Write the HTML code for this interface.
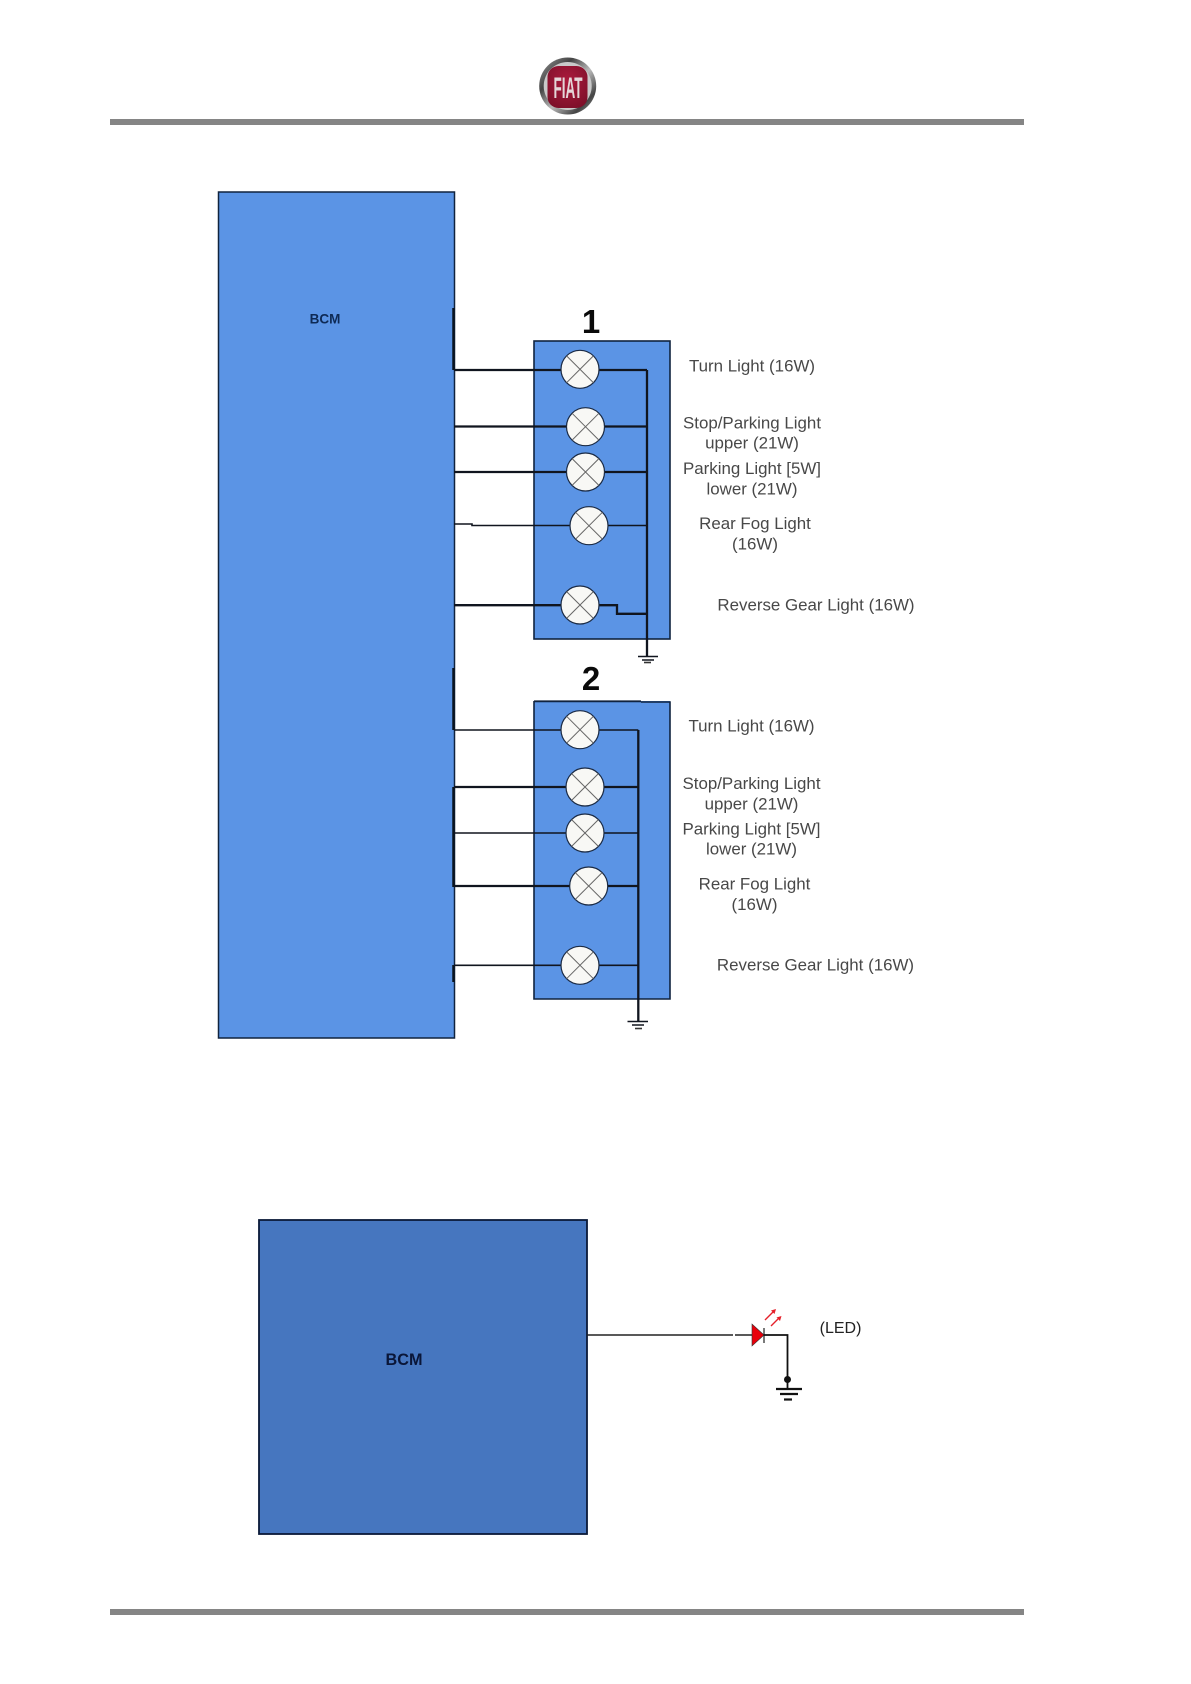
<!DOCTYPE html>
<html>
<head>
<meta charset="utf-8">
<style>
html,body{margin:0;padding:0;background:#fff;}
svg{display:block;}
.l{font-family:"Liberation Sans",Arial,sans-serif;font-size:16.9px;fill:#484848;text-anchor:middle;}
.n{font-family:"Liberation Sans",Arial,sans-serif;font-weight:bold;font-size:33px;fill:#0a0a0a;text-anchor:middle;}
.w{stroke:#10151f;stroke-width:2.3;fill:none;}
.t{stroke:#10151f;stroke-width:1.6;fill:none;}
.x{stroke:#666;stroke-width:1;}
.c{fill:#f8f8f5;stroke:#1a2a44;stroke-width:1.2;}
</style>
</head>
<body>
<svg width="1191" height="1684" viewBox="0 0 1191 1684" xmlns="http://www.w3.org/2000/svg">
<defs>
<linearGradient id="ring" x1="0" y1="0" x2="1" y2="1">
<stop offset="0" stop-color="#999"/><stop offset=".3" stop-color="#444"/><stop offset=".55" stop-color="#bbb"/><stop offset=".8" stop-color="#444"/><stop offset="1" stop-color="#aaa"/>
</linearGradient>
<radialGradient id="red" cx=".5" cy=".35" r=".7">
<stop offset="0" stop-color="#ab1b3d"/><stop offset="1" stop-color="#7d0f29"/>
</radialGradient>
<g id="lamp">
<circle class="c" r="19"/>
<line class="x" x1="-13.4" y1="-13.4" x2="13.4" y2="13.4"/>
<line class="x" x1="-13.4" y1="13.4" x2="13.4" y2="-13.4"/>
</g>
</defs>

<!-- header / footer bars -->
<rect x="110" y="119" width="914" height="6" fill="#858585"/>
<rect x="110" y="1609" width="914" height="6" fill="#858585"/>

<!-- logo -->
<circle cx="567.7" cy="86" r="28.5" fill="url(#ring)"/>
<circle cx="567.7" cy="86" r="24" fill="#c9c9c9"/>
<rect x="547.5" y="66" width="40" height="42" rx="11" fill="url(#red)"/>
<text x="568" y="98" font-family="Liberation Sans, Arial, sans-serif" font-weight="bold" font-size="30" fill="#e4d6d8" text-anchor="middle" textLength="29" lengthAdjust="spacingAndGlyphs">FIAT</text>

<!-- main BCM -->
<rect x="218.5" y="192" width="236" height="846" fill="#5b94e5" stroke="#10233f" stroke-width="1.5"/>
<text x="325" y="323.5" font-family="Liberation Sans, Arial, sans-serif" font-weight="bold" font-size="13.5" fill="#0e2a55" text-anchor="middle">BCM</text>
<line x1="453.5" y1="308" x2="453.5" y2="370" stroke="#0a1420" stroke-width="2.5"/>
<line x1="453.5" y1="668" x2="453.5" y2="730" stroke="#0a1420" stroke-width="2.5"/>
<line x1="453.5" y1="787" x2="453.5" y2="887" stroke="#0a1420" stroke-width="2.5"/>
<line x1="453.5" y1="965" x2="453.5" y2="982" stroke="#0a1420" stroke-width="2.5"/>

<!-- box 1 -->
<rect x="534" y="341" width="136" height="298" fill="#5b94e5" stroke="#10233f" stroke-width="1.6"/>
<path class="w" d="M454 370H647M454 426.5H647M454 472H647M454 605.2H617V613.8H647M647 370V656"/>
<path class="t" d="M454 524H472V525.5H647"/>
<use href="#lamp" x="580" y="369.3"/>
<use href="#lamp" x="585.5" y="426.7"/>
<use href="#lamp" x="585.5" y="472"/>
<use href="#lamp" x="589" y="525.7"/>
<use href="#lamp" x="580" y="605"/>
<path class="t" d="M638 656.5H658M642 660H654"/>
<path d="M644 662.5H651" stroke="#333" stroke-width="1.6"/>

<!-- box 2 -->
<rect x="534" y="701" width="136" height="298" fill="#5b94e5"/>
<path d="M534 701V999H670V702H641" fill="none" stroke="#10233f" stroke-width="1.6"/>
<path d="M534 701.3H641" stroke="#10233f" stroke-width="1.8"/>
<path class="t" d="M454 730H638.3M454 833H638.3M454 965.3H638.3"/>
<path class="w" d="M454 787H638.3M454 886H638.3M638.3 730V1021"/>
<use href="#lamp" x="580" y="729.7"/>
<use href="#lamp" x="585" y="787"/>
<use href="#lamp" x="585" y="833"/>
<use href="#lamp" x="588.7" y="886"/>
<use href="#lamp" x="580" y="965.3"/>
<path class="t" d="M627.5 1021.5H648M632 1025H644"/>
<path d="M635 1028.5H642" stroke="#333" stroke-width="1.6"/>

<!-- numbers -->
<text class="n" x="591" y="333">1</text>
<text class="n" x="591" y="690">2</text>

<!-- labels 1 -->
<text class="l" x="752" y="371.7">Turn Light (16W)</text>
<text class="l" x="752" y="428.3">Stop/Parking Light</text>
<text class="l" x="752" y="448.7">upper (21W)</text>
<text class="l" x="752" y="474">Parking Light [5W]</text>
<text class="l" x="752" y="494.7">lower (21W)</text>
<text class="l" x="755" y="529">Rear Fog Light</text>
<text class="l" x="755" y="549.3">(16W)</text>
<text class="l" x="816" y="610.7">Reverse Gear Light (16W)</text>

<!-- labels 2 -->
<text class="l" x="751.5" y="731.7">Turn Light (16W)</text>
<text class="l" x="751.5" y="789">Stop/Parking Light</text>
<text class="l" x="751.5" y="809.3">upper (21W)</text>
<text class="l" x="751.5" y="834.3">Parking Light [5W]</text>
<text class="l" x="751.5" y="854.7">lower (21W)</text>
<text class="l" x="754.5" y="889.3">Rear Fog Light</text>
<text class="l" x="754.5" y="910">(16W)</text>
<text class="l" x="815.5" y="970.7">Reverse Gear Light (16W)</text>

<!-- lower BCM -->
<rect x="259" y="1220" width="328" height="314" fill="#4676bf" stroke="#0b1a38" stroke-width="1.8" transform="translate(0,0)"/>
<text x="404" y="1365" font-family="Liberation Sans, Arial, sans-serif" font-weight="bold" font-size="16.5" fill="#0a1638" text-anchor="middle" textLength="37" lengthAdjust="spacingAndGlyphs">BCM</text>

<!-- LED circuit -->
<path d="M587 1335H733M735 1335H752" stroke="#222" stroke-width="1.4" fill="none"/>
<polygon points="752,1324 752,1346 764,1335" fill="#e8000b" stroke="#333" stroke-width=".6"/>
<line x1="764" y1="1328" x2="764" y2="1343" stroke="#222" stroke-width="1.2"/>
<path d="M764 1335H787.5V1389" stroke="#111" stroke-width="1.8" fill="none"/>
<circle cx="787.5" cy="1379.5" r="3.5" fill="#111"/>
<path d="M776 1389H802" stroke="#111" stroke-width="2.2"/>
<path d="M780 1394H798" stroke="#111" stroke-width="2.2"/>
<path d="M784 1399.5H792" stroke="#111" stroke-width="2.2"/>
<path d="M765 1320L773 1312M771 1326L778 1319" stroke="#e5202a" stroke-width="1.4" fill="none"/>
<polygon points="776,1309 771,1310.5 774.5,1314" fill="#e5202a"/>
<polygon points="781.5,1316 776.5,1317.5 780,1321" fill="#e5202a"/>
<text x="840.5" y="1333" font-family="Liberation Sans, Arial, sans-serif" font-size="16" fill="#222" text-anchor="middle">(LED)</text>
</svg>
</body>
</html>
